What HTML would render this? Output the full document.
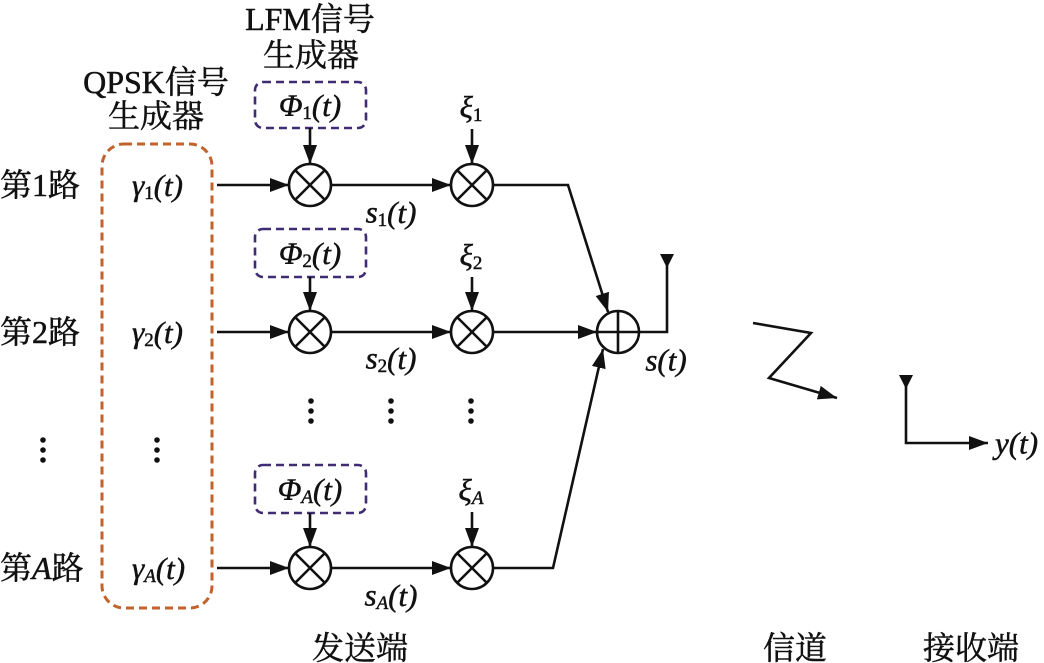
<!DOCTYPE html>
<html><head><meta charset="utf-8">
<style>
html,body{margin:0;padding:0;background:#fff;}
svg{display:block;}
text{font-family:"Liberation Serif","Noto Serif CJK SC",serif;fill:#111;stroke:#111;stroke-width:0.5px;}
.cjk{font-size:32px;}
.m{font-style:italic;font-size:31px;}
.sub{font-size:19px;}
</style></head>
<body>
<svg width="1044" height="663" viewBox="0 0 1044 663" xmlns="http://www.w3.org/2000/svg">
<defs>
<marker id="ah" markerUnits="userSpaceOnUse" markerWidth="22" markerHeight="16" refX="19" refY="7" orient="auto">
<path d="M0,0 L19,7 L0,14 z" fill="#111"/>
</marker>
</defs>

<!-- top labels -->
<text class="cjk" x="310" y="19" text-anchor="middle" dominant-baseline="central">LFM信号</text>
<text class="cjk" x="311" y="55" text-anchor="middle" dominant-baseline="central">生成器</text>
<text class="cjk" x="156" y="82" text-anchor="middle" dominant-baseline="central">QPSK信号</text>
<text class="cjk" x="156" y="116" text-anchor="middle" dominant-baseline="central">生成器</text>

<!-- orange box -->
<rect x="102" y="144" width="110" height="464" rx="22" ry="22" fill="none" stroke="#c2622c" stroke-width="3" stroke-dasharray="8,5"/>

<!-- purple boxes -->
<g fill="none" stroke="#3f2c72" stroke-width="2.6" stroke-dasharray="8,5">
<rect x="255" y="82" width="111" height="46" rx="8"/>
<rect x="255" y="229" width="111" height="48" rx="8"/>
<rect x="255" y="465" width="111" height="48" rx="8"/>
</g>
<text class="m" x="310" y="105" text-anchor="middle" dominant-baseline="central">Φ<tspan class="sub" dy="8" font-style="normal">1</tspan><tspan dy="-8">(t)</tspan></text>
<text class="m" x="310" y="253" text-anchor="middle" dominant-baseline="central">Φ<tspan class="sub" dy="8" font-style="normal">2</tspan><tspan dy="-8">(t)</tspan></text>
<text class="m" x="310" y="489" text-anchor="middle" dominant-baseline="central">Φ<tspan class="sub" dy="8">A</tspan><tspan dy="-8">(t)</tspan></text>

<!-- row labels -->
<text class="cjk" x="0" y="185" dominant-baseline="central">第1路</text>
<text class="cjk" x="0" y="332" dominant-baseline="central">第2路</text>
<text class="cjk" x="0" y="568" dominant-baseline="central">第<tspan font-style="italic">A</tspan>路</text>

<text class="m" x="132" y="185" dominant-baseline="central">γ<tspan class="sub" dy="8" font-style="normal">1</tspan><tspan dy="-8">(t)</tspan></text>
<text class="m" x="132" y="332" dominant-baseline="central">γ<tspan class="sub" dy="8" font-style="normal">2</tspan><tspan dy="-8">(t)</tspan></text>
<text class="m" x="132" y="568" dominant-baseline="central">γ<tspan class="sub" dy="8">A</tspan><tspan dy="-8">(t)</tspan></text>

<!-- xi labels -->
<text class="m" x="471" y="107" text-anchor="middle" dominant-baseline="central">ξ<tspan class="sub" dy="8" font-style="normal">1</tspan></text>
<text class="m" x="471" y="255" text-anchor="middle" dominant-baseline="central">ξ<tspan class="sub" dy="8" font-style="normal">2</tspan></text>
<text class="m" x="471" y="490" text-anchor="middle" dominant-baseline="central">ξ<tspan class="sub" dy="8">A</tspan></text>

<!-- s labels -->
<text class="m" x="391" y="212" text-anchor="middle" dominant-baseline="central">s<tspan class="sub" dy="8" font-style="normal">1</tspan><tspan dy="-8">(t)</tspan></text>
<text class="m" x="391" y="358" text-anchor="middle" dominant-baseline="central">s<tspan class="sub" dy="8" font-style="normal">2</tspan><tspan dy="-8">(t)</tspan></text>
<text class="m" x="391" y="595" text-anchor="middle" dominant-baseline="central">s<tspan class="sub" dy="8">A</tspan><tspan dy="-8">(t)</tspan></text>
<text class="m" x="666" y="360" text-anchor="middle" dominant-baseline="central">s(t)</text>
<text class="m" x="995" y="443" dominant-baseline="central">y(t)</text>

<!-- connectors -->
<g stroke="#111" stroke-width="2.6" fill="none">
<!-- row 1 -->
<line x1="217" y1="185" x2="289" y2="185" marker-end="url(#ah)"/>
<line x1="331" y1="185" x2="451" y2="185" marker-end="url(#ah)"/>
<polyline points="493,185 568,185 608,312" marker-end="url(#ah)"/>
<line x1="310" y1="128" x2="310" y2="164" marker-end="url(#ah)"/>
<line x1="472" y1="129" x2="472" y2="164" marker-end="url(#ah)"/>
<!-- row 2 -->
<line x1="217" y1="332" x2="289" y2="332" marker-end="url(#ah)"/>
<line x1="331" y1="332" x2="451" y2="332" marker-end="url(#ah)"/>
<line x1="493" y1="332" x2="597" y2="332" marker-end="url(#ah)"/>
<line x1="310" y1="277" x2="310" y2="311" marker-end="url(#ah)"/>
<line x1="472" y1="277" x2="472" y2="311" marker-end="url(#ah)"/>
<!-- row A -->
<line x1="217" y1="568" x2="289" y2="568" marker-end="url(#ah)"/>
<line x1="331" y1="568" x2="451" y2="568" marker-end="url(#ah)"/>
<polyline points="493,568 553,568 603,349" marker-end="url(#ah)"/>
<line x1="310" y1="513" x2="310" y2="547" marker-end="url(#ah)"/>
<line x1="472" y1="512" x2="472" y2="547" marker-end="url(#ah)"/>

<!-- multipliers -->
<circle cx="310" cy="185" r="21"/>
<circle cx="472" cy="185" r="21"/>
<circle cx="310" cy="332" r="21"/>
<circle cx="472" cy="332" r="21"/>
<circle cx="310" cy="568" r="21"/>
<circle cx="472" cy="568" r="21"/>
<path d="M295,170 L325,200 M325,170 L295,200
         M457,170 L487,200 M487,170 L457,200
         M295,317 L325,347 M325,317 L295,347
         M457,317 L487,347 M487,317 L457,347
         M295,553 L325,583 M325,553 L295,583
         M457,553 L487,583 M487,553 L457,583"/>

<!-- adder -->
<circle cx="618" cy="332" r="21"/>
<path d="M597,332 L639,332 M618,311 L618,353"/>
<polyline points="639,332 667,332 667,262"/>

<!-- channel -->
<polyline points="753,323 811,333 769,378 837,398" marker-end="url(#ah)"/>

<!-- receiver -->
<polyline points="906,384 906,443 988,443" marker-end="url(#ah)"/>
</g>

<!-- antennas -->
<path d="M660,254 L674,254 L667,268 z" fill="#111"/>
<path d="M899,375 L913,375 L906,389 z" fill="#111"/>

<!-- dots -->
<g fill="#111">
<circle cx="43" cy="440" r="2.8"/><circle cx="43" cy="450" r="2.8"/><circle cx="43" cy="460" r="2.8"/>
<circle cx="157" cy="440" r="2.8"/><circle cx="157" cy="450" r="2.8"/><circle cx="157" cy="460" r="2.8"/>
<circle cx="311" cy="401" r="2.8"/><circle cx="311" cy="411" r="2.8"/><circle cx="311" cy="421" r="2.8"/>
<circle cx="391" cy="401" r="2.8"/><circle cx="391" cy="411" r="2.8"/><circle cx="391" cy="421" r="2.8"/>
<circle cx="471" cy="401" r="2.8"/><circle cx="471" cy="411" r="2.8"/><circle cx="471" cy="421" r="2.8"/>
</g>

<!-- bottom labels -->
<text class="cjk" x="360" y="648" text-anchor="middle" dominant-baseline="central">发送端</text>
<text class="cjk" x="795" y="648" text-anchor="middle" dominant-baseline="central">信道</text>
<text class="cjk" x="971" y="648" text-anchor="middle" dominant-baseline="central">接收端</text>
</svg>
</body></html>
